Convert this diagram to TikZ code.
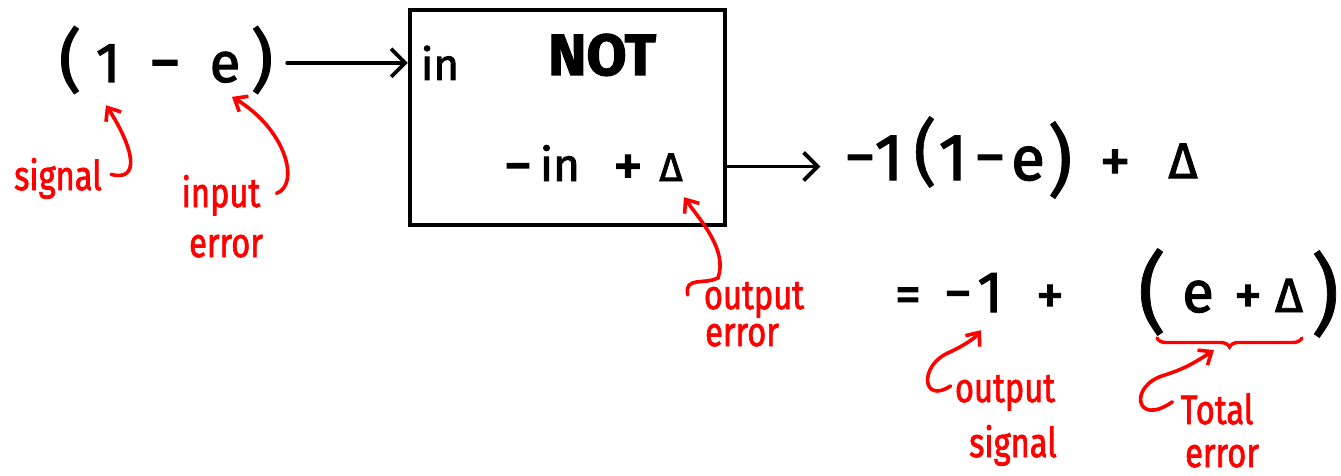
\documentclass[tikz,border=0pt]{standalone}
\usepackage{fontspec}
\usepackage{graphicx}
\setmainfont{Fira Sans}[FakeBold=2]
\newfontfamily\thinfam{Fira Sans}[FakeBold=0.8]
\usetikzlibrary{arrows.meta,decorations.pathreplacing}
\definecolor{pen}{RGB}{255,0,0}
\newcommand\fsz[1]{\fontsize{#1}{#1}\selectfont}
\newcommand\nar[1]{\scalebox{0.86}[1.08]{#1}}
\tikzset{
  sym/.style={inner sep=0pt, anchor=base},
  par/.style={inner sep=0pt, anchor=center},
  note/.style={text=pen, inner sep=0pt, anchor=base, font=\fsz{38}},
  blkarr/.style={line width=3.8pt, line cap=round, -{Straight Barb[length=14pt,width=28pt,line width=3.8pt]}},
  redarr/.style={draw=pen, line width=3.6pt, line cap=round, -{Straight Barb[length=11pt,width=18pt,line width=3.6pt]}},
  gatebox/.style={draw, line width=4.4pt, minimum width=315pt, minimum height=215pt, inner sep=0pt}
}
\begin{document}
\begin{tikzpicture}[x=1pt,y=-1pt]
\useasboundingbox[fill=white] (0,0) rectangle (1341,476);
% input expression
\node[par,font=\fsz{68}] (lpA) at (70,60) {(};
\node[sym,font=\fsz{56}] (oneA) at (108,82) {1};
\node[sym,font=\fsz{64}] (mA) at (165,84) {−};
\node[sym,font=\fsz{56}] (eA) at (225,82) {e};
\node[par,font=\fsz{68}] (rpA) at (262,60) {)};
% gate
\node[gatebox] (box) at (567.5,117.5) {};
\node[sym,font=\fsz{44}] (inl) at (440,80) {in};
\node[sym,font=\bfseries\fsz{58}] (notl) at (602,75) {NOT};
\node[sym,font=\fsz{58}] (mB) at (518,185) {−};
\node[sym,font=\fsz{46}] (inB) at (560,181) {in};
\node[sym,font=\fsz{60}] (pB) at (628,186) {+};
\node[sym,font=\fsz{40}] (dB) at (671,181) {Δ};
% output expression
\node[sym,font=\fsz{62}] (mC) at (860,178) {−};
\node[sym,font=\fsz{66}] (oneC) at (889,180) {1};
\node[par,font=\thinfam\fsz{72}] (lpC) at (925,152) {(};
\node[sym,font=\fsz{66}] (oneC2) at (953,180) {1};
\node[sym,font=\fsz{62}] (mC2) at (990,178) {−};
\node[sym,font=\fsz{62}] (eC) at (1028,180) {e};
\node[par,font=\thinfam\fsz{78}] (rpC) at (1060,160) {)};
\node[sym,font=\fsz{62}] (pC) at (1115,182) {+};
\node[sym,font=\fsz{50}] (dC) at (1183,178) {Δ};
% simplified
\node[sym,font=\fsz{52}] (eqD) at (908,312) {=};
\node[sym,font=\fsz{56}] (mD) at (958,312) {−};
\node[sym,font=\fsz{58}] (oneD) at (990,312) {1};
\node[sym,font=\fsz{56}] (pD) at (1050,314) {+};
\node[par,font=\thinfam\fsz{88}] (lpD) at (1152,292) {(};
\node[sym,font=\fsz{58}] (eD) at (1198,312) {e};
\node[sym,font=\fsz{56}] (pD2) at (1248,314) {+};
\node[sym,font=\fsz{48}] (dD) at (1289,312) {Δ};
\node[par,font=\thinfam\fsz{88}] (rpD) at (1325,294) {)};
% black arrows
\draw[blkarr, shorten <=14pt] (rpA.east |- inl.west) -- (box.west |- inl.west);
\draw[blkarr, shorten >=24pt] (box.east |- mC.west) -- (mC.west);
% brace
\coordinate (brL) at (1157,338);
\coordinate (brR) at (1302,338);
\draw[pen, line width=3.4pt, line cap=round, decorate, decoration={brace, mirror, amplitude=9pt}] (brL) -- (brR);
% red labels
\node[note] (sig) at (58,190) {\nar{signal}};
\node[note] (inp) at (221,207) {\nar{input}};
\node[note] (inpE) at (226,257) {\nar{error}};
\node[note] (outE) at (754,309) {\nar{output}};
\node[note] (outEE) at (742,346) {\nar{error}};
\node[note] (outS) at (1005,402) {\nar{output}};
\node[note] (outSS) at (1013,457) {\nar{signal}};
\node[note] (tot) at (1217,424) {\nar{Total}};
\node[note] (totE) at (1222,467) {\nar{error}};
% red arrows
\draw[redarr] ([xshift=9pt,yshift=4pt]sig.east) .. controls (140,182) and (135,150) .. ([xshift=-2pt,yshift=-23pt]oneA.south);
\draw[redarr] ([xshift=16pt,yshift=2pt]inp.east) .. controls (300,185) and (287,130) .. ([xshift=7pt,yshift=-14pt]eA.south);
\draw[redarr] ([xshift=-16pt,yshift=5pt]outE.west) .. controls (684,276) and (705,285) .. (718,278) .. controls (728,250) and (700,220) .. ([xshift=13pt,yshift=-16pt]dB.south);
\draw[redarr] ([xshift=-4pt,yshift=7pt]outS.west) .. controls (922,405) and (918,365) .. (950,352) .. controls (965,345) and (975,338) .. ([xshift=-9pt,yshift=-18pt]oneD.south);
\draw[redarr] ([xshift=-8pt,yshift=7pt]tot.west) .. controls (1135,428) and (1128,385) .. (1165,375) .. controls (1180,370) and (1190,366) .. ([yshift=-12pt]brL -| eD.east);
\end{tikzpicture}
\end{document}
